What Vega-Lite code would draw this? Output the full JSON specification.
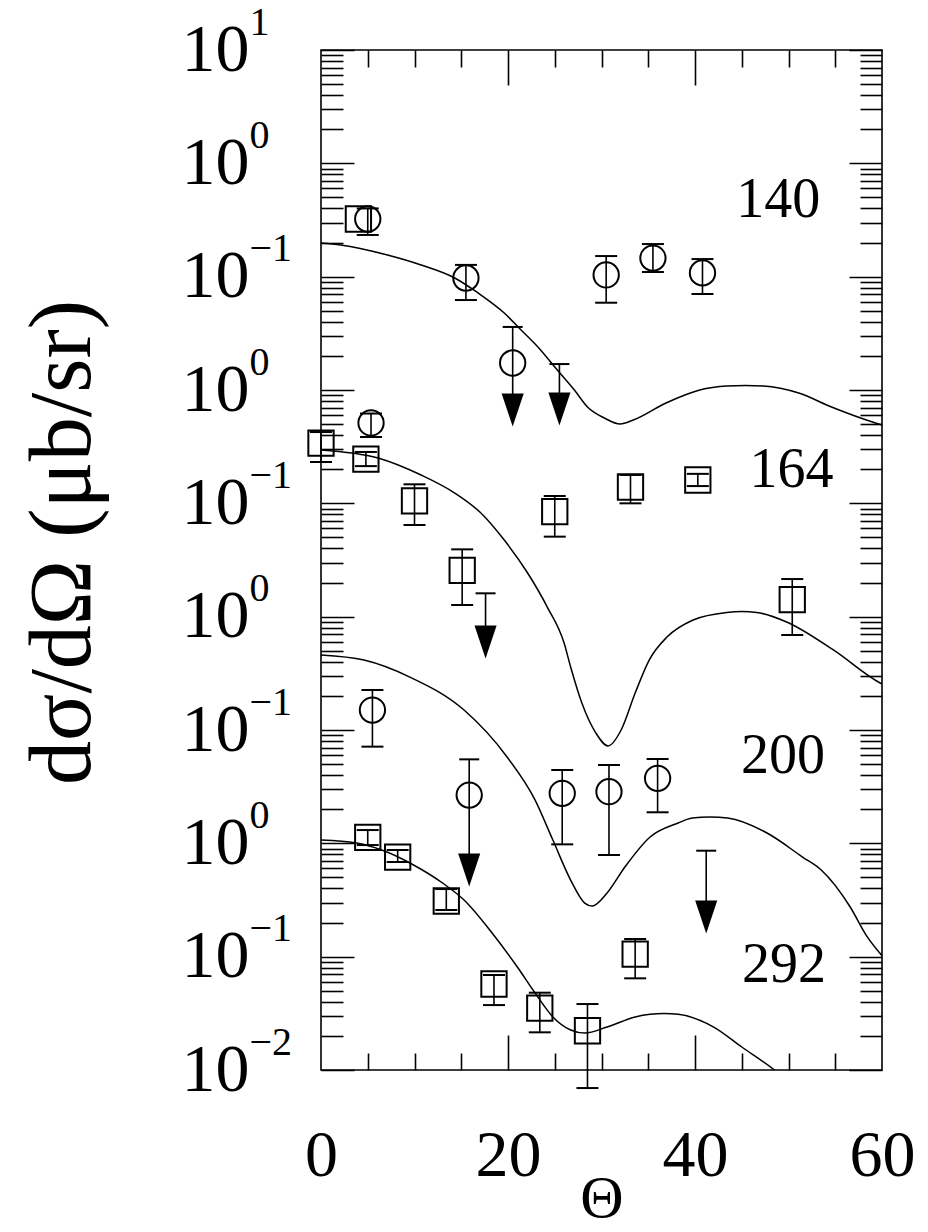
{
  "$schema": "https://vega.github.io/schema/vega-lite/v6.json",
  "width": 561,
  "height": 1020,
  "autosize": "none",
  "padding": {"left": 321, "top": 50, "right": 46, "bottom": 162},
  "background": "white",
  "config": {
    "view": {"stroke": "black", "strokeWidth": 1.6},
    "axis": {"grid": false, "domain": false, "labelFont": "Liberation Serif", "titleFont": "Liberation Serif", "labelColor": "black", "titleColor": "black", "tickColor": "black", "tickWidth": 1.6, "titleFontWeight": "normal", "labelFlush": false, "labelOverlap": false, "labelBound": false}
  },
  "datasets": {
    "curves": [
      {"panel": "140", "theta": 0, "value": 0.1982}, {"panel": "140", "theta": 2.1, "value": 0.1901}, {"panel": "140", "theta": 7.1, "value": 0.1552}, {"panel": "140", "theta": 10.7, "value": 0.1268}, {"panel": "140", "theta": 14.3, "value": 0.09727}, {"panel": "140", "theta": 16.8, "value": 0.07178}, {"panel": "140", "theta": 19.6, "value": 0.04775}, {"panel": "140", "theta": 21.4, "value": 0.03381}, {"panel": "140", "theta": 23.2, "value": 0.02393}, {"panel": "140", "theta": 25.0, "value": 0.01596}, {"panel": "140", "theta": 27.1, "value": 0.0100}, {"panel": "140", "theta": 28.5, "value": 0.007079}, {"panel": "140", "theta": 30.3, "value": 0.005662}, {"panel": "140", "theta": 32.0, "value": 0.005012}, {"panel": "140", "theta": 33.4, "value": 0.005433}, {"panel": "140", "theta": 36.9, "value": 0.007674}, {"panel": "140", "theta": 40.5, "value": 0.0100}, {"panel": "140", "theta": 43.4, "value": 0.01084}, {"panel": "140", "theta": 45.4, "value": 0.01096}, {"panel": "140", "theta": 47.3, "value": 0.01084}, {"panel": "140", "theta": 51.1, "value": 0.009397}, {"panel": "140", "theta": 54.6, "value": 0.007079}, {"panel": "140", "theta": 59.3, "value": 0.005117}, {"panel": "140", "theta": 60, "value": 0.004909},
      {"panel": "164", "theta": 0, "value": 0.002958}, {"panel": "164", "theta": 6.1, "value": 0.002512}, {"panel": "164", "theta": 10.7, "value": 0.001778}, {"panel": "164", "theta": 14.3, "value": 0.001233}, {"panel": "164", "theta": 17.1, "value": 0.0008222}, {"panel": "164", "theta": 19.6, "value": 0.0004742}, {"panel": "164", "theta": 22.1, "value": 0.0002427}, {"panel": "164", "theta": 24.2, "value": 0.0001216}, {"panel": "164", "theta": 26.0, "value": 5.848e-5}, {"panel": "164", "theta": 26.7, "value": 3.597e-5}, {"panel": "164", "theta": 27.9, "value": 1.730e-5}, {"panel": "164", "theta": 29.4, "value": 9.397e-6}, {"panel": "164", "theta": 30.7, "value": 7.228e-6}, {"panel": "164", "theta": 32.1, "value": 1.0e-5}, {"panel": "164", "theta": 33.6, "value": 2.118e-5}, {"panel": "164", "theta": 35.1, "value": 4.140e-5}, {"panel": "164", "theta": 37.0, "value": 6.607e-5}, {"panel": "164", "theta": 39.8, "value": 9.354e-5}, {"panel": "164", "theta": 43.4, "value": 1.09e-4}, {"panel": "164", "theta": 45.0, "value": 1.11e-4}, {"panel": "164", "theta": 46.6, "value": 1.09e-4}, {"panel": "164", "theta": 49.8, "value": 8.974e-5}, {"panel": "164", "theta": 54.8, "value": 5.082e-5}, {"panel": "164", "theta": 59.8, "value": 2.600e-5}, {"panel": "164", "theta": 60, "value": 2.55e-5},
      {"panel": "200", "theta": 0, "value": 4.592e-5}, {"panel": "200", "theta": 4.6, "value": 4.140e-5}, {"panel": "200", "theta": 9.5, "value": 2.931e-5}, {"panel": "200", "theta": 15.3, "value": 1.500e-5}, {"panel": "200", "theta": 19.9, "value": 5.781e-6}, {"panel": "200", "theta": 22.9, "value": 2.410e-6}, {"panel": "200", "theta": 24.8, "value": 1.069e-6}, {"panel": "200", "theta": 26.7, "value": 4.742e-7}, {"panel": "200", "theta": 28.2, "value": 2.972e-7}, {"panel": "200", "theta": 29.0, "value": 2.799e-7}, {"panel": "200", "theta": 30.6, "value": 3.648e-7}, {"panel": "200", "theta": 32.5, "value": 6.180e-7}, {"panel": "200", "theta": 35.2, "value": 1.138e-6}, {"panel": "200", "theta": 38.2, "value": 1.51e-6}, {"panel": "200", "theta": 39.7, "value": 1.67e-6}, {"panel": "200", "theta": 41.6, "value": 1.71e-6}, {"panel": "200", "theta": 43.5, "value": 1.67e-6}, {"panel": "200", "theta": 47.7, "value": 1.233e-6}, {"panel": "200", "theta": 51.5, "value": 7.568e-7}, {"panel": "200", "theta": 53.5, "value": 5.821e-7}, {"panel": "200", "theta": 56.6, "value": 2.742e-7}, {"panel": "200", "theta": 58.3, "value": 1.55e-7}, {"panel": "200", "theta": 60, "value": 1.02e-7},
      {"panel": "292", "theta": 0, "value": 1.069e-6}, {"panel": "292", "theta": 3.8, "value": 1.007e-6}, {"panel": "292", "theta": 6.5, "value": 8.730e-7}, {"panel": "292", "theta": 9.9, "value": 6.442e-7}, {"panel": "292", "theta": 13.0, "value": 4.467e-7}, {"panel": "292", "theta": 15.3, "value": 3.162e-7}, {"panel": "292", "theta": 18.3, "value": 1.618e-7}, {"panel": "292", "theta": 21.0, "value": 8.110e-8}, {"panel": "292", "theta": 22.9, "value": 4.775e-8}, {"panel": "292", "theta": 24.8, "value": 2.938e-8}, {"panel": "292", "theta": 26.7, "value": 2.254e-8}, {"panel": "292", "theta": 28.2, "value": 2.118e-8}, {"panel": "292", "theta": 30.6, "value": 2.393e-8}, {"panel": "292", "theta": 33.6, "value": 2.938e-8}, {"panel": "292", "theta": 35.2, "value": 3.10e-8}, {"panel": "292", "theta": 36.7, "value": 3.15e-8}, {"panel": "292", "theta": 38.2, "value": 3.10e-8}, {"panel": "292", "theta": 42.0, "value": 2.393e-8}, {"panel": "292", "theta": 45.0, "value": 1.596e-8}, {"panel": "292", "theta": 48.5, "value": 1.0e-8}, {"panel": "292", "theta": 50.0, "value": 7.94e-9}
    ],
    "pts": [
      {"panel": "140", "theta": 4.0, "value": 0.3228, "sym": "square"},
      {"panel": "140", "theta": 5.0, "value": 0.3228, "lo": 0.2333, "hi": 0.40, "sym": "circle"},
      {"panel": "140", "theta": 15.5, "value": 0.0973, "lo": 0.0622, "hi": 0.127, "sym": "circle"},
      {"panel": "140", "theta": 20.5, "value": 0.0173, "sym": "circle"},
      {"panel": "140", "theta": 30.5, "value": 0.1035, "lo": 0.0589, "hi": 0.152, "sym": "circle"},
      {"panel": "140", "theta": 35.5, "value": 0.146, "lo": 0.110, "hi": 0.194, "sym": "circle"},
      {"panel": "140", "theta": 40.8, "value": 0.108, "lo": 0.0703, "hi": 0.143, "sym": "circle"},
      {"panel": "164", "theta": 0, "value": 0.003404, "lo": 0.002317, "hi": 0.004256, "sym": "square"},
      {"panel": "164", "theta": 4.8, "value": 0.00246, "lo": 0.00213, "hi": 0.00284, "sym": "square"},
      {"panel": "164", "theta": 5.35, "value": 0.00512, "lo": 0.00385, "hi": 0.0062, "sym": "circle"},
      {"panel": "164", "theta": 10.0, "value": 0.001052, "lo": 0.000644, "hi": 0.001472, "sym": "square"},
      {"panel": "164", "theta": 15.1, "value": 0.0002564, "lo": 0.0001268, "hi": 0.0003926, "sym": "square"},
      {"panel": "164", "theta": 25.0, "value": 0.0008433, "lo": 0.0005082, "hi": 0.001161, "sym": "square"},
      {"panel": "164", "theta": 33.1, "value": 0.001393, "lo": 0.001, "hi": 0.00178, "sym": "square"},
      {"panel": "164", "theta": 40.3, "value": 0.001607, "lo": 0.00142, "hi": 0.00182, "sym": "square"},
      {"panel": "164", "theta": 50.4, "value": 0.0001413, "lo": 6.887e-5, "hi": 0.0002148, "sym": "square"},
      {"panel": "200", "theta": 5.5, "value": 1.5e-5, "lo": 7.13e-6, "hi": 2.254e-5, "sym": "circle"},
      {"panel": "200", "theta": 15.85, "value": 2.667e-6, "sym": "circle"},
      {"panel": "200", "theta": 25.8, "value": 2.761e-6, "lo": 9.795e-7, "hi": 4.436e-6, "sym": "circle"},
      {"panel": "200", "theta": 30.8, "value": 2.858e-6, "lo": 7.889e-7, "hi": 4.909e-6, "sym": "circle"},
      {"panel": "200", "theta": 36.0, "value": 3.75e-6, "lo": 1.879e-6, "hi": 5.546e-6, "sym": "circle"},
      {"panel": "292", "theta": 5.0, "value": 1.13e-6, "lo": 9.66e-7, "hi": 1.31e-6, "sym": "square"},
      {"panel": "292", "theta": 8.2, "value": 7.57e-7, "lo": 6.84e-7, "hi": 8.73e-7, "sym": "square"},
      {"panel": "292", "theta": 13.4, "value": 3.10e-7, "lo": 2.58e-7, "hi": 3.95e-7, "sym": "square"},
      {"panel": "292", "theta": 18.5, "value": 5.74e-8, "lo": 3.74e-8, "hi": 6.89e-8, "sym": "square"},
      {"panel": "292", "theta": 23.4, "value": 3.52e-8, "lo": 2.15e-8, "hi": 4.81e-8, "sym": "square"},
      {"panel": "292", "theta": 28.5, "value": 2.22e-8, "lo": 6.93e-9, "hi": 3.82e-8, "sym": "square"},
      {"panel": "292", "theta": 33.6, "value": 1.054e-7, "lo": 6.44e-8, "hi": 1.432e-7, "sym": "square"}
    ],
    "arrows": [
      {"panel": "140", "theta": 20.5, "top": 0.0360, "head": 0.00666},
      {"panel": "140", "theta": 25.5, "top": 0.01694, "head": 0.00679},
      {"panel": "164", "theta": 17.6, "top": 0.0001607, "head": 5.97e-5},
      {"panel": "200", "theta": 15.85, "top": 5.508e-6, "head": 5.821e-7},
      {"panel": "200", "theta": 41.2, "top": 8.61e-7, "head": 2.239e-7}
    ],
    "labels": [
      {"label": "140", "theta": 53.4, "value": 0.336},
      {"label": "164", "theta": 54.8, "value": 0.00139},
      {"label": "200", "theta": 53.9, "value": 4.17e-6},
      {"label": "292", "theta": 54.0, "value": 5.97e-8}
    ]
  },
  "layer": [
    {
      "data": {"name": "curves"},
      "mark": {"type": "line", "color": "black", "strokeWidth": 1.5, "interpolate": "monotone", "clip": true},
      "encoding": {
        "x": {"field": "theta", "type": "quantitative", "scale": {"domain": [0, 60], "nice": false, "zero": false},
          "axis": {"orient": "bottom", "values": [0, 20, 40, 60], "ticks": false, "labelFontSize": 66, "labelBaseline": "alphabetic", "labelPadding": 105, "format": "d", "title": "Θ", "titleFontSize": 60, "titleX": 280.5, "titleY": 146, "titleAlign": "center", "titleBaseline": "alphabetic"}},
        "y": {"field": "value", "type": "quantitative", "scale": {"type": "log", "domain": [1e-8, 10], "nice": false},
          "axis": {"orient": "left", "values": [10, 1, 0.1, 0.01, 0.001, 0.0001, 1e-5, 1e-6, 1e-7, 1e-8], "ticks": false, "labelExpr": "'10'", "labelAlign": "right", "labelBaseline": "middle", "labelPadding": 72, "labelFontSize": 68, "title": "dσ/dΩ (μb/sr)", "titleFontSize": 88, "titleX": -258, "titleY": 492, "titleAngle": -90, "titleAlign": "center", "titleBaseline": "middle"}},
        "detail": {"field": "panel"}
      }
    },
    {
      "data": {"name": "pts"},
      "transform": [{"filter": {"field": "lo", "valid": true}}],
      "mark": {"type": "rule", "color": "black", "strokeWidth": 1.6},
      "encoding": {
        "x": {"field": "theta", "type": "quantitative", "scale": {"domain": [0, 60], "nice": false, "zero": false},
          "axis": {"orient": "bottom", "values": [20, 40], "labels": false, "tickSize": -35, "title": null}},
        "y": {"field": "lo", "type": "quantitative", "scale": {"type": "log", "domain": [1e-8, 10], "nice": false},
          "axis": {"orient": "left", "values": [10, 1, 0.1, 0.01, 0.001, 0.0001, 1e-5, 1e-6, 1e-7, 1e-8], "ticks": false, "labelExpr": "round(log(datum.value)/LN10) == 1 ? '1' : (round(log(datum.value)/LN10) == -8 ? '−2' : (round(log(datum.value)/LN10) % 2 == 0 ? '0' : '−1'))", "labelAlign": "left", "labelBaseline": "middle", "labelPadding": 72, "labelOffset": -28, "labelFontSize": 40, "title": null}},
        "y2": {"field": "hi"}
      }
    },
    {
      "data": {"name": "pts"},
      "transform": [{"fold": ["lo", "hi"], "as": ["end", "cap"]}, {"filter": {"field": "cap", "valid": true}}],
      "mark": {"type": "point", "shape": "M-1,0L1,0", "size": 484, "filled": false, "color": "black", "strokeWidth": 2, "opacity": 1},
      "encoding": {
        "x": {"field": "theta", "type": "quantitative", "scale": {"domain": [0, 60], "nice": false, "zero": false},
          "axis": {"orient": "bottom", "values": [5, 10, 15, 25, 30, 35, 45, 50, 55], "labels": false, "tickSize": -17, "title": null}},
        "y": {"field": "cap", "type": "quantitative", "scale": {"type": "log", "domain": [1e-8, 10], "nice": false},
          "axis": {"orient": "left", "values": [9, 8, 7, 6, 5, 4, 3, 2, 0.9, 0.8, 0.7, 0.6, 0.5, 0.4, 0.3, 0.2, 0.09, 0.08, 0.07, 0.06, 0.05, 0.04, 0.03, 0.02, 0.009, 0.008, 0.007, 0.006, 0.005, 0.004, 0.003, 0.002, 0.0009, 0.0008, 0.0007, 0.0006, 0.0005, 0.0004, 0.0003, 0.0002, 9e-5, 8e-5, 7e-5, 6e-5, 5e-5, 4e-5, 3e-5, 2e-5, 9e-6, 8e-6, 7e-6, 6e-6, 5e-6, 4e-6, 3e-6, 2e-6, 9e-7, 8e-7, 7e-7, 6e-7, 5e-7, 4e-7, 3e-7, 2e-7, 9e-8, 8e-8, 7e-8, 6e-8, 5e-8, 4e-8, 3e-8, 2e-8], "labels": false, "tickSize": -22, "title": null}}
      }
    },
    {
      "data": {"name": "pts"},
      "mark": {"type": "point", "filled": false, "color": "black", "strokeWidth": 2, "size": 640, "opacity": 1},
      "encoding": {
        "x": {"field": "theta", "type": "quantitative", "scale": {"domain": [0, 60], "nice": false, "zero": false},
          "axis": {"orient": "top", "values": [20, 40], "labels": false, "tickSize": -35, "title": null}},
        "y": {"field": "value", "type": "quantitative", "scale": {"type": "log", "domain": [1e-8, 10], "nice": false},
          "axis": {"orient": "left", "values": [10, 1, 0.1, 0.01, 0.001, 0.0001, 1e-5, 1e-6, 1e-7, 1e-8], "labels": false, "tickSize": -33, "title": null}},
        "shape": {"field": "sym", "type": "nominal", "scale": {"domain": ["circle", "square"], "range": ["circle", "square"]}, "legend": null}
      }
    },
    {
      "data": {"name": "arrows"},
      "mark": {"type": "rule", "color": "black", "strokeWidth": 1.6},
      "encoding": {
        "x": {"field": "theta", "type": "quantitative", "scale": {"domain": [0, 60], "nice": false, "zero": false},
          "axis": {"orient": "top", "values": [5, 10, 15, 25, 30, 35, 45, 50, 55], "labels": false, "tickSize": -17, "title": null}},
        "y": {"field": "top", "type": "quantitative", "scale": {"type": "log", "domain": [1e-8, 10], "nice": false},
          "axis": {"orient": "right", "values": [10, 1, 0.1, 0.01, 0.001, 0.0001, 1e-5, 1e-6, 1e-7, 1e-8], "labels": false, "tickSize": -33, "title": null}},
        "y2": {"field": "head"}
      }
    },
    {
      "data": {"name": "arrows"},
      "mark": {"type": "point", "shape": "M-1,0L1,0", "size": 400, "filled": false, "color": "black", "strokeWidth": 2, "opacity": 1},
      "encoding": {
        "x": {"field": "theta", "type": "quantitative", "scale": {"domain": [0, 60], "nice": false, "zero": false}, "axis": null},
        "y": {"field": "top", "type": "quantitative", "scale": {"type": "log", "domain": [1e-8, 10], "nice": false},
          "axis": {"orient": "right", "values": [9, 8, 7, 6, 5, 4, 3, 2, 0.9, 0.8, 0.7, 0.6, 0.5, 0.4, 0.3, 0.2, 0.09, 0.08, 0.07, 0.06, 0.05, 0.04, 0.03, 0.02, 0.009, 0.008, 0.007, 0.006, 0.005, 0.004, 0.003, 0.002, 0.0009, 0.0008, 0.0007, 0.0006, 0.0005, 0.0004, 0.0003, 0.0002, 9e-5, 8e-5, 7e-5, 6e-5, 5e-5, 4e-5, 3e-5, 2e-5, 9e-6, 8e-6, 7e-6, 6e-6, 5e-6, 4e-6, 3e-6, 2e-6, 9e-7, 8e-7, 7e-7, 6e-7, 5e-7, 4e-7, 3e-7, 2e-7, 9e-8, 8e-8, 7e-8, 6e-8, 5e-8, 4e-8, 3e-8, 2e-8], "labels": false, "tickSize": -22, "title": null}}
      }
    },
    {
      "data": {"name": "arrows"},
      "mark": {"type": "point", "shape": "M-0.67,-1L0.67,-1L0,1Z", "size": 1089, "filled": true, "color": "black", "opacity": 1},
      "encoding": {
        "x": {"field": "theta", "type": "quantitative", "scale": {"domain": [0, 60], "nice": false, "zero": false}, "axis": null},
        "y": {"field": "head", "type": "quantitative", "scale": {"type": "log", "domain": [1e-8, 10], "nice": false}, "axis": null}
      }
    },
    {
      "data": {"name": "labels"},
      "mark": {"type": "text", "font": "Liberation Serif", "fontSize": 56, "align": "right", "baseline": "alphabetic", "color": "black"},
      "encoding": {
        "x": {"field": "theta", "type": "quantitative", "scale": {"domain": [0, 60], "nice": false, "zero": false}, "axis": null},
        "y": {"field": "value", "type": "quantitative", "scale": {"type": "log", "domain": [1e-8, 10], "nice": false}, "axis": null},
        "text": {"field": "label"}
      }
    }
  ],
  "resolve": {"axis": {"x": "independent", "y": "independent"}}
}
